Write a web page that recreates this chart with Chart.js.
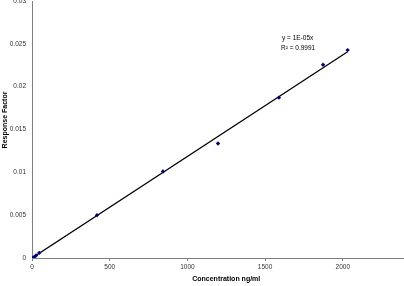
<!DOCTYPE html>
<html>
<head>
<meta charset="utf-8">
<script src="https://cdn.jsdelivr.net/npm/chart.js@4/dist/chart.umd.min.js"></script>
<style>
  html, body { margin: 0; padding: 0; background: #fff; overflow: hidden; width: 404px; height: 286px; }
  #wrap { position: absolute; left: 0; top: -20px; width: 440px; height: 306px; }
</style>
</head>
<body>
<div id="wrap"><canvas id="rfChart" width="440" height="306"></canvas></div>
<script>
// datos
const concentration = [0, 13, 26, 47, 418, 843, 1197, 1589, 1873, 2031];
const responseFactor = [0, 0.0001, 0.0003, 0.0006, 0.0050, 0.0101, 0.01337, 0.01872, 0.02256, 0.02427];
const xTicks = [0, 500, 1000, 1500, 2000, 2500];
const xTickLabels = ['0', '500', '1000', '1500', '2000', '2500'];
const yTicks = [0, 0.005, 0.01, 0.015, 0.02, 0.025, 0.03];
const yTickLabels = ['0', '0.005', '0.01', '0.015', '0.02', '0.025', '0.03'];
const equationText = 'y = 1E-05x';
const r2Text = 'R\u00B2 = 0.9991';
const yTitle = 'Response Factor';

// recta de tendencia por el origen (minimos cuadrados)
let sxy = 0, sxx = 0;
concentration.forEach((x, i) => { sxy += x * responseFactor[i]; sxx += x * x; });
const slope = sxy / sxx;
const xMaxData = Math.max(...concentration);
const trendPoints = [{ x: 0, y: 0 }, { x: xMaxData, y: slope * xMaxData }];

const points = concentration.map((x, i) => ({ x: x, y: responseFactor[i] }));

const FONT = "'Liberation Sans', Arial, sans-serif";

const labelPlugin = {
    id: 'trendLabel',
    afterDraw(chart) {
        const ctx = chart.ctx;
        ctx.save();
        ctx.fillStyle = '#000';
        ctx.font = '6.5px ' + FONT;
        ctx.textBaseline = 'middle';
        ctx.textAlign = 'left';
        ctx.fillText(equationText, 282, 58);
        ctx.fillText(r2Text, 281, 68.5);
        // titulo del eje Y
        ctx.font = 'bold 7px ' + FONT;
        ctx.textAlign = 'center';
        ctx.translate(5, 140);
        ctx.rotate(-Math.PI / 2);
        ctx.fillText(yTitle, 0, 0);
        ctx.restore();
    }
};

const ctx = document.getElementById('rfChart').getContext('2d');
new Chart(ctx, {
    type: 'scatter',
    data: {
        datasets: [
            {
                label: 'Trend',
                data: trendPoints,
                showLine: true,
                borderColor: '#000',
                borderWidth: 1.3,
                pointRadius: 0,
                order: 2
            },
            {
                label: 'Response Factor',
                data: points,
                pointStyle: 'rectRot',
                pointRadius: 2.2,
                backgroundColor: '#000080',
                borderColor: '#000080',
                borderWidth: 0,
                order: 1
            }
        ]
    },
    options: {
        responsive: false,
        animation: false,
        devicePixelRatio: 1,
        layout: { padding: { top: 21, right: 19.5, left: 0, bottom: 0 } },
        plugins: { legend: { display: false }, tooltip: { enabled: false } },
        scales: {
            x: {
                type: 'linear',
                min: 0,
                max: 2500,
                afterBuildTicks: s => { s.ticks = xTicks.map(v => ({ value: v })); },
                afterFit: s => { s.height = 28; },
                grid: { drawOnChartArea: false, drawTicks: true, tickLength: 3, tickColor: '#808080' },
                border: { color: '#808080', width: 1 },
                ticks: {
                    color: '#333',
                    font: { family: FONT, size: 6.5 },
                    padding: 2,
                    maxRotation: 0,
                    callback: (v, i) => xTickLabels[i]
                },
                title: {
                    display: true,
                    text: 'Concentration ng/ml',
                    color: '#000',
                    font: { family: FONT, size: 7, weight: 'bold' },
                    padding: { top: 0, bottom: 3 }
                }
            },
            y: {
                type: 'linear',
                min: 0,
                max: 0.03,
                afterBuildTicks: s => { s.ticks = yTicks.map(v => ({ value: v })); },
                afterFit: s => { s.width = 32; },
                grid: { drawOnChartArea: false, drawTicks: true, tickLength: 4, tickColor: 'rgba(0,0,0,0)' },
                border: { color: '#808080', width: 1 },
                ticks: {
                    color: '#333',
                    font: { family: FONT, size: 6.5 },
                    padding: 2,
                    callback: (v, i) => yTickLabels[i]
                }
            }
        }
    },
    plugins: [labelPlugin]
});
</script>
</body>
</html>
